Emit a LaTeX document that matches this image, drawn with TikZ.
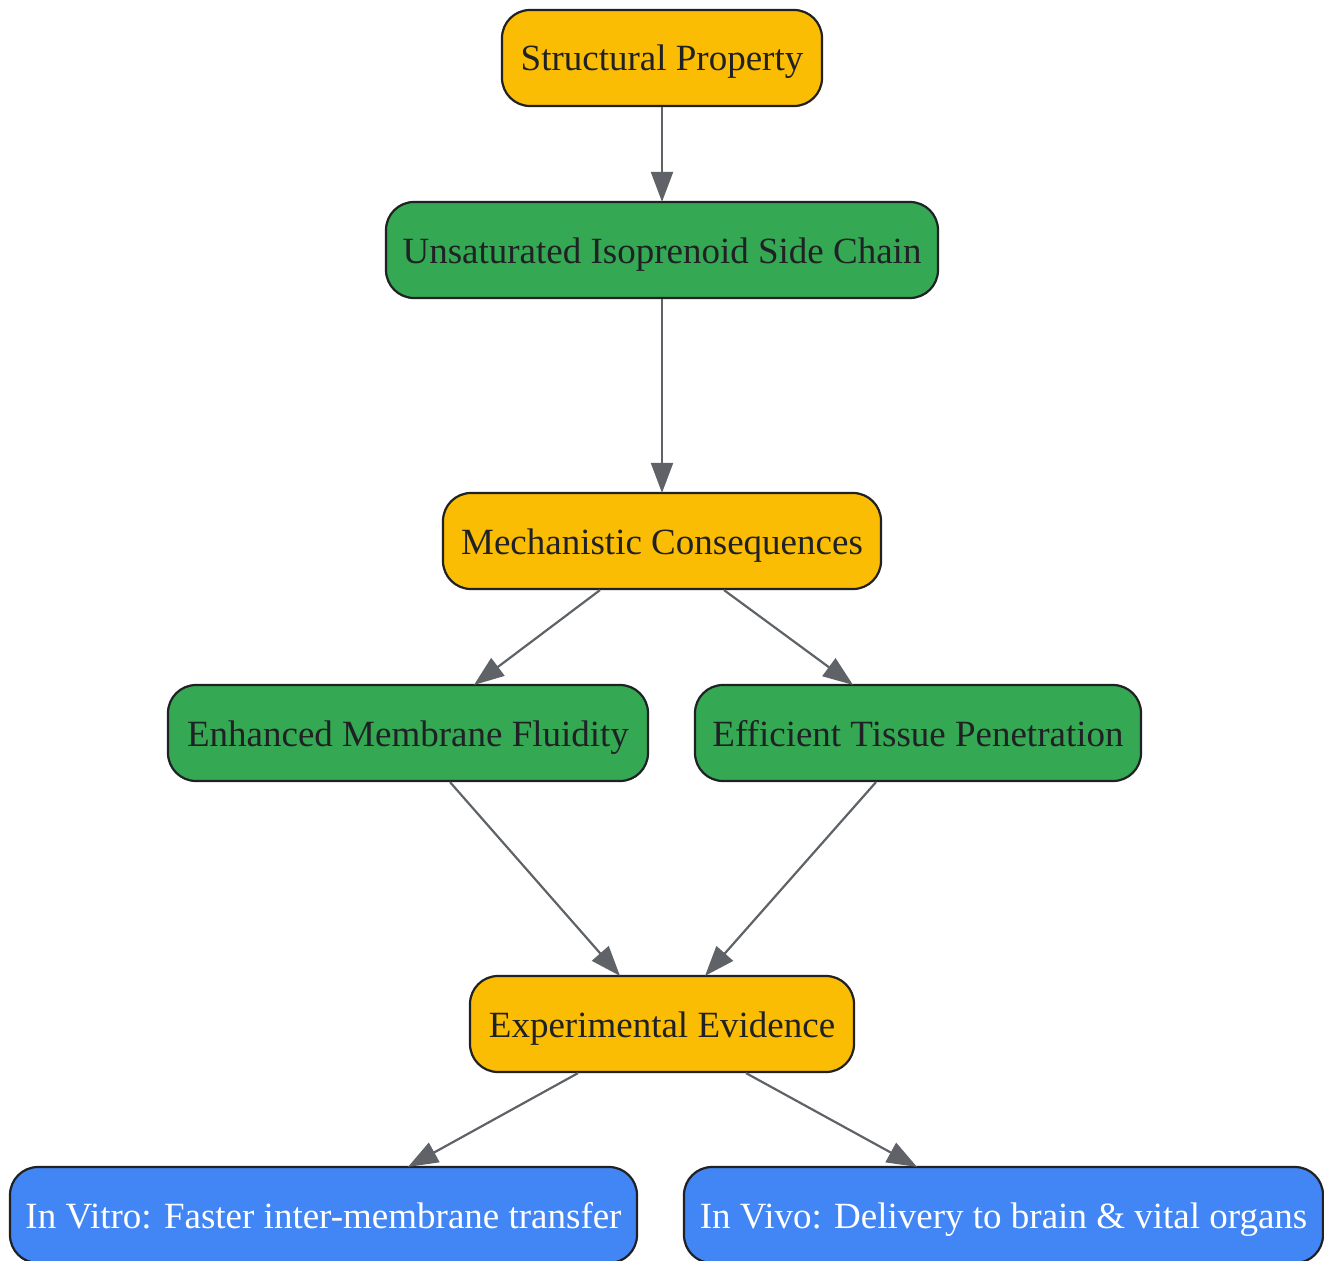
\documentclass[tikz,border=0pt]{standalone}
\usepackage{fontspec}
\setmainfont{Liberation Serif}
\usetikzlibrary{arrows.meta}
\definecolor{cyellow}{HTML}{FBBC04}
\definecolor{cgreen}{HTML}{34A853}
\definecolor{cblue}{HTML}{4285F4}
\definecolor{cedge}{HTML}{5F6368}
\definecolor{cborder}{HTML}{202124}
\definecolor{ctext}{HTML}{202124}
\tikzset{
  box/.style={draw=cborder, line width=2.2pt, rounded corners=28pt, minimum height=96pt,
    inner sep=0pt, text height=31pt, text depth=5pt,
    font=\fontsize{37}{42}\selectfont, text=ctext},
  ybox/.style={box, fill=cyellow},
  gbox/.style={box, fill=cgreen},
  bbox/.style={box, fill=cblue, text=white},
  edge/.style={draw=cedge, line width=2.2pt, -{Triangle[length=30pt,width=22pt]}, fill=cedge}
}
\begin{document}
\begin{tikzpicture}[x=1pt,y=-1pt]
\useasboundingbox (0,0) rectangle (1324,1260);
\node[ybox, minimum width=320pt] (sp) at (662,58) {Structural Property};
\node[gbox, minimum width=552pt] (usc) at (662,250) {Unsaturated Isoprenoid Side Chain};
\node[ybox, minimum width=438pt] (mc) at (662,541) {Mechanistic Consequences};
\node[gbox, minimum width=480pt] (emf) at (408,733) {Enhanced Membrane Fluidity};
\node[gbox, minimum width=446pt] (etp) at (918,733) {Efficient Tissue Penetration};
\node[ybox, minimum width=384pt] (ee) at (662,1024) {Experimental Evidence};
\node[bbox, minimum width=627pt] (iv) at (323.5,1215) {In Vitro: Faster inter-membrane transfer};
\node[bbox, minimum width=639pt] (ivo) at (1003.5,1215) {In Vivo: Delivery to brain \& vital organs};
\draw[edge] (sp.south) -- ([yshift=-1pt]usc.north);
\draw[edge] (usc.south) -- ([yshift=-1pt]mc.north);
\draw[edge] ([xshift=-62pt]mc.south) -- ([xshift=66pt,yshift=-1pt]emf.north);
\draw[edge] ([xshift=62pt]mc.south) -- ([xshift=-65pt,yshift=-1pt]etp.north);
\draw[edge] ([xshift=42pt]emf.south) -- ([xshift=-42pt,yshift=-1pt]ee.north);
\draw[edge] ([xshift=-42pt]etp.south) -- ([xshift=43pt,yshift=-1pt]ee.north);
\draw[edge] ([xshift=-84pt]ee.south) -- ([xshift=84.5pt,yshift=-1pt]iv.north);
\draw[edge] ([xshift=84pt]ee.south) -- ([xshift=-86.5pt,yshift=-1pt]ivo.north);
\end{tikzpicture}
\end{document}
